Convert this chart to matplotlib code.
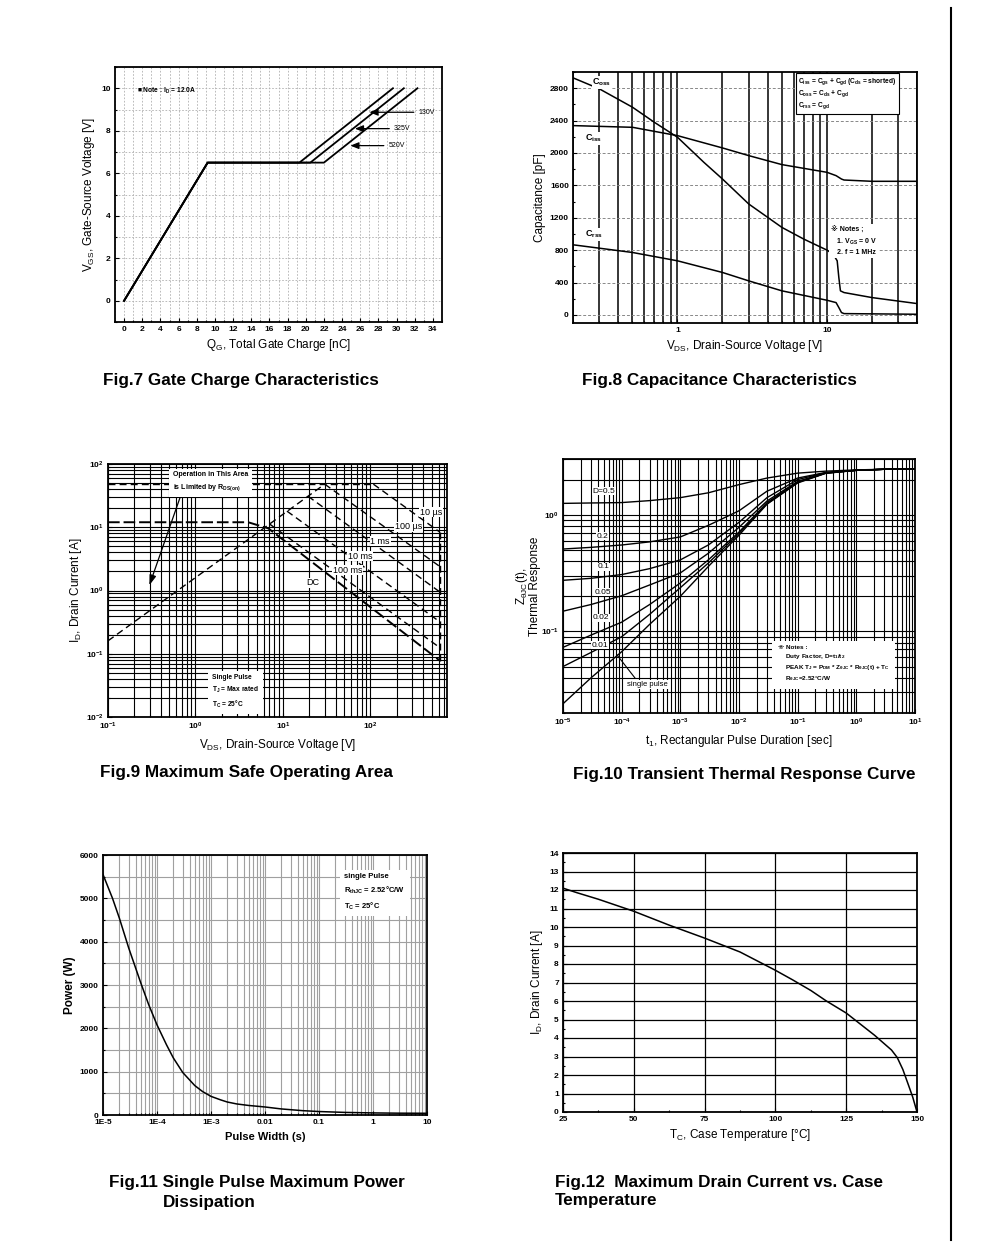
import matplotlib
matplotlib.use('Agg')
import matplotlib.pyplot as plt
from matplotlib.ticker import MultipleLocator, NullFormatter
from matplotlib.lines import Line2D

plt.rcParams['font.family'] = ['Liberation Sans', 'DejaVu Sans', 'Noto Sans CJK JP']
plt.rcParams['mathtext.fontset'] = 'custom'
plt.rcParams['mathtext.rm'] = 'Liberation Sans'
plt.rcParams['mathtext.default'] = 'regular'

# ---- Fig.7 gate charge
vgs_pts = [0, 6.5, 6.5, 10]
qg_130v = [0, 9.2, 19.3, 29.6]
qg_325v = [0, 9.2, 20.5, 30.8]
qg_520v = [0, 9.2, 22.0, 32.3]

# ---- Fig.8 capacitance
vds_ciss = [0.2, 0.5, 1, 2, 3, 5, 10, 11.5, 12.5, 13, 20, 40]
ciss = [2338, 2317, 2214, 2062, 1967, 1856, 1761, 1720, 1678, 1666, 1650, 1650]
vds_coss = [0.2, 0.3, 0.5, 0.7, 1, 1.5, 2, 3, 5, 7, 10, 11, 11.7, 12, 12.3, 13, 20, 40]
coss = [2928, 2792, 2565, 2379, 2194, 1885, 1678, 1369, 1080, 936, 800, 750, 668, 462, 297, 276, 214, 140]
vds_crss = [0.2, 0.5, 1, 2, 3, 5, 10, 11.5, 12, 12.5, 13, 40]
crss = [866, 771, 668, 524, 420, 297, 181, 152, 91, 29, 16, 8]

# ---- Fig.9 safe operating area (V, A)
soa_idm = ([0.1, 108], [48, 48])
soa_rds = ([0.1, 30], [0.16, 48])
soa_10us = ([108, 620], [48, 8.4])
soa_100us = ([30, 620], [48, 2.4])
soa_1ms = ([19.3, 620], [31, 0.95])
soa_10ms = ([11.1, 620], [18, 0.32])
soa_100ms = ([7.0, 620], [11.3, 0.125])
soa_dc = ([0.1, 4.0, 6.8, 620], [12, 12, 9.6, 0.078])
soa_bv = ([620, 620], [8.4, 0.078])

# ---- Fig.10 transient thermal response
t_pulse = [1e-5, 3e-5, 1e-4, 3e-4, 1e-3, 3e-3, 1e-2, 3e-2, 1e-1, 3e-1, 1, 3, 10]
zth = {
    'D=0.5': [1.25, 1.26, 1.27, 1.32, 1.40, 1.54, 1.81, 2.06, 2.27, 2.36, 2.42, 2.45, 2.47],
    '0.2': [0.508, 0.525, 0.55, 0.585, 0.645, 0.81, 1.08, 1.59, 2.06, 2.30, 2.40, 2.45, 2.47],
    '0.1': [0.274, 0.285, 0.307, 0.345, 0.41, 0.55, 0.86, 1.40, 2.00, 2.29, 2.40, 2.45, 2.47],
    '0.05': [0.149, 0.17, 0.202, 0.25, 0.317, 0.467, 0.78, 1.31, 1.93, 2.28, 2.40, 2.45, 2.47],
    '0.02': [0.073, 0.093, 0.12, 0.17, 0.26, 0.41, 0.71, 1.27, 1.90, 2.27, 2.40, 2.45, 2.47],
    '0.01': [0.050, 0.066, 0.090, 0.14, 0.237, 0.385, 0.69, 1.24, 1.89, 2.27, 2.40, 2.45, 2.47],
    'single pulse': [0.024, 0.040, 0.067, 0.115, 0.20, 0.36, 0.667, 1.23, 1.87, 2.26, 2.40, 2.45, 2.47],
}
zth_labels = {'D=0.5': (3.2e-5, 1.59), '0.2': (3.8e-5, 0.653), '0.1': (3.9e-5, 0.358),
              '0.05': (3.4e-5, 0.217), '0.02': (3.2e-5, 0.131), '0.01': (3.1e-5, 0.076)}

# ---- Fig.11 single pulse power
pw = [1e-5, 1.5e-5, 2e-5, 3e-5, 4e-5, 5e-5, 7e-5, 1e-4, 1.5e-4, 2e-4, 3e-4, 5e-4, 7e-4,
      1e-3, 1.5e-3, 2e-3, 3e-3, 5e-3, 1e-2, 2e-2, 5e-2, 0.1, 0.3, 1, 3, 10]
power = [5550, 5000, 4550, 3850, 3400, 3050, 2550, 2080, 1620, 1320, 980, 680, 540,
         430, 350, 300, 255, 220, 185, 140, 100, 80, 60, 48, 42, 40]
pw_ticks = [1e-5, 1e-4, 1e-3, 1e-2, 0.1, 1, 10]
pw_labels = ['1E-5', '1E-4', '1E-3', '0.01', '0.1', '1', '10']

# ---- Fig.12 drain current vs case temperature
tc = [25, 30, 37.5, 50, 62.5, 75, 87.5, 100, 106, 112.5, 118, 125, 130, 135, 138,
      141, 143, 145, 147, 148.5, 150]
id_tc = [12.1, 11.85, 11.5, 10.85, 10.1, 9.4, 8.65, 7.66, 7.15, 6.57, 6.0, 5.35, 4.75,
         4.15, 3.75, 3.35, 2.95, 2.3, 1.45, 0.8, 0]


def fig_px(l, t, r, b):
    return [l / 1000, 1 - b / 1250, (r - l) / 1000, (b - t) / 1250]


def style(ax):
    ax.tick_params(which='both', direction='in', labelsize=6, pad=3, width=0.8)
    ax.tick_params(which='major', length=3)
    ax.tick_params(which='minor', length=1.5)
    for lab in ax.get_xticklabels() + ax.get_yticklabels():
        lab.set_fontweight('bold')
    for s in ax.spines.values():
        s.set_linewidth(1.3)


fig = plt.figure(figsize=(10, 12.5), dpi=100)

# Fig.7
ax = fig.add_axes(fig_px(115, 67, 442, 322))
for q in (qg_130v, qg_325v, qg_520v):
    ax.plot(q, vgs_pts, color='black', lw=1.3)
ax.set_xlim(-1, 35)
ax.set_ylim(-1, 11)
ax.set_xticks(range(0, 35, 2))
ax.set_yticks(range(0, 11, 2))
ax.xaxis.set_minor_locator(MultipleLocator(1))
ax.yaxis.set_minor_locator(MultipleLocator(1))
ax.grid(True, which='both', color='#b0b0b0', ls=(0, (2, 2)), lw=0.6)
ax.set_axisbelow(True)
ax.set_xlabel('Q$_G$, Total Gate Charge [nC]', fontsize=8.5, labelpad=3)
ax.set_ylabel('V$_{GS}$, Gate-Source Voltage [V]', fontsize=8.5, labelpad=3)
ax.text(1.4, 9.86, '■ Note : I$_D$ = 12.0A', fontsize=4.8, fontweight='bold', va='center')
for lab, tip, y in (('130V', 26.7, 8.87), ('325V', 25.1, 8.1), ('520V', 24.6, 7.3)):
    tx = {'130V': 32.2, '325V': 29.5, '520V': 28.9}[lab]
    ax.annotate('', xy=(tip, y), xytext=(tx, y),
                arrowprops=dict(arrowstyle='-|>,head_length=0.5,head_width=0.2', lw=0.9, color='black'))
    ax.text(tx + 0.2, y, lab, fontsize=5, va='center')
style(ax)

# Fig.8
ax = fig.add_axes(fig_px(573, 72, 917, 323))
ax.plot(vds_ciss, ciss, color='black', lw=1.1)
ax.plot(vds_coss, coss, color='black', lw=1.1)
ax.plot(vds_crss, crss, color='black', lw=1.1)
ax.set_xscale('log')
ax.set_xlim(0.2, 40)
ax.set_ylim(-100, 3000)
ax.set_xticks([1, 10], ['1', '10'])
ax.xaxis.set_minor_formatter(NullFormatter())
ax.set_yticks(range(0, 2801, 400))
ax.yaxis.set_minor_locator(MultipleLocator(200))
ax.xaxis.grid(True, which='both', color='black', lw=1.1)
ax.yaxis.grid(True, which='major', color='#888888', ls=(0, (3, 2)), lw=0.7)
ax.set_xlabel('V$_{DS}$, Drain-Source Voltage [V]', fontsize=8.5, labelpad=3)
ax.set_ylabel('Capacitance [pF]', fontsize=8.5, labelpad=3)
ax.text(0.27, 2870, 'C$_{oss}$', fontsize=6.5, fontweight='bold', va='center',
        bbox=dict(fc='white', ec='none', pad=0.5))
ax.text(0.24, 2180, 'C$_{iss}$', fontsize=6.5, fontweight='bold', va='center',
        bbox=dict(fc='white', ec='none', pad=0.5))
ax.text(0.24, 990, 'C$_{rss}$', fontsize=6.5, fontweight='bold', va='center',
        bbox=dict(fc='white', ec='none', pad=0.5))
ax.text(0.655, 0.985, 'C$_{iss}$ = C$_{gs}$ + C$_{gd}$ (C$_{ds}$ = shorted)\n'
        'C$_{oss}$ = C$_{ds}$ + C$_{gd}$\nC$_{rss}$ = C$_{gd}$',
        transform=ax.transAxes, fontsize=4.8, fontweight='bold', va='top', linespacing=1.2,
        bbox=dict(fc='white', ec='black', lw=0.8, pad=2))
ax.text(0.75, 0.385, '※ Notes ;\n   1. V$_{GS}$ = 0 V\n   2. f = 1 MHz',
        transform=ax.transAxes, fontsize=5, fontweight='bold', va='top', linespacing=1.45,
        bbox=dict(fc='white', ec='none', pad=1.5))
style(ax)

# Fig.9
ax = fig.add_axes(fig_px(108, 464, 447, 717))
dash = (0, (5, 3))
for xs, ys in (soa_idm, soa_rds, soa_10us, soa_100us, soa_1ms, soa_10ms, soa_100ms, soa_bv):
    ax.plot(xs, ys, color='black', lw=1.0, ls=dash)
ax.plot(*soa_dc, color='black', lw=1.4, ls=(0, (6, 2)))
ax.set_xscale('log')
ax.set_yscale('log')
ax.set_xlim(0.1, 750)
ax.set_ylim(0.01, 100)
ax.grid(True, which='both', color='black', lw=0.8)
ax.set_axisbelow(True)
ax.set_xlabel('V$_{DS}$, Drain-Source Voltage [V]', fontsize=8.5, labelpad=3)
ax.set_ylabel('I$_D$, Drain Current [A]', fontsize=8.5, labelpad=1)
wbox = dict(fc='white', ec='none', pad=0.6)
for lab, x, y in (('10 µs', 367, 17.4), ('100 µs', 190, 10.1), ('1 ms', 100, 6.06),
                  ('10 ms', 55, 3.5), ('100 ms', 37, 2.1), ('DC', 18.4, 1.32)):
    ax.text(x, y, lab, fontsize=6.5, va='center', bbox=wbox)
ax.text(0.55, 52, 'Operation in This Area\nis Limited by R$_{DS(on)}$', fontsize=5,
        fontweight='bold', va='center', linespacing=1.5, bbox=dict(fc='white', ec='none', pad=3))
ax.annotate('', xy=(0.29, 1.1), xytext=(0.68, 32),
            arrowprops=dict(arrowstyle='-|>,head_length=0.6,head_width=0.2', lw=0.9, color='black'))
ax.text(1.56, 0.025, 'Single Pulse\nT$_J$ = Max rated\nT$_C$ = 25°C', fontsize=4.8,
        fontweight='bold', va='center', linespacing=1.5, bbox=dict(fc='white', ec='none', pad=3))
style(ax)

# Fig.10
ax = fig.add_axes(fig_px(563, 459, 915, 713))
for name, vals in zth.items():
    ax.plot(t_pulse, vals, color='black', lw=1.0)
ax.set_xscale('log')
ax.set_yscale('log')
ax.set_xlim(1e-5, 10)
ax.set_ylim(0.02, 3)
ax.grid(True, which='both', color='black', lw=0.8)
ax.set_axisbelow(True)
for name, (x, y) in zth_labels.items():
    ax.text(x, y, name, fontsize=6, va='center', bbox=dict(fc='white', ec='none', pad=0.5))
ax.text(1.23e-4, 0.035, 'single pulse', fontsize=5.5, va='center',
        bbox=dict(fc='white', ec='none', pad=0.8))
ax.plot([8.3e-5, 1.68e-4], [0.063, 0.040], color='black', lw=0.8)
ax.text(0.61, 0.268, '※ Notes :\n    Duty Factor, D=t$_1$/t$_2$\n'
        '    PEAK T$_J$ = P$_{DM}$ * Z$_{\\theta JC}$ * R$_{\\theta JC}$(t) + T$_C$\n'
        '    R$_{\\theta JC}$=2.52°C/W',
        transform=ax.transAxes, fontsize=4.6, fontweight='bold', va='top', linespacing=1.35,
        bbox=dict(fc='white', ec='none', pad=4))
ax.set_xlabel('t$_1$, Rectangular Pulse Duration [sec]', fontsize=8.5, labelpad=3)
ax.set_ylabel('Z$_{\\theta JC}$(t),\nThermal Response', fontsize=8.5, labelpad=0, linespacing=0.9)
style(ax)

# Fig.11
ax = fig.add_axes(fig_px(103, 855, 427, 1115))
ax.plot(pw, power, color='black', lw=1.1)
ax.set_xscale('log')
ax.set_xlim(1e-5, 10)
ax.set_ylim(0, 6000)
ax.set_xticks(pw_ticks, pw_labels)
ax.xaxis.set_minor_formatter(NullFormatter())
ax.set_yticks(range(0, 6001, 1000))
ax.yaxis.set_minor_locator(MultipleLocator(500))
ax.grid(True, which='both', color='#a0a0a0', lw=0.8)
ax.set_axisbelow(True)
ax.set_xlabel('Pulse Width (s)', fontsize=8, fontweight='bold', labelpad=4)
ax.set_ylabel('Power (W)', fontsize=8.5, fontweight='bold', labelpad=3)
ax.text(0.745, 0.93, 'single Pulse\nR$_{thJC}$ = 2.52°C/W\nT$_C$ = 25°C', transform=ax.transAxes,
        fontsize=5.5, fontweight='bold', va='top', linespacing=1.6,
        bbox=dict(fc='white', ec='none', pad=3))
style(ax)

# Fig.12
ax = fig.add_axes(fig_px(563, 853, 917, 1112))
ax.plot(tc, id_tc, color='black', lw=1.1)
ax.set_xlim(25, 150)
ax.set_ylim(0, 14)
ax.set_xticks(range(25, 151, 25))
ax.set_yticks(range(0, 15))
ax.xaxis.set_minor_locator(MultipleLocator(12.5))
ax.yaxis.set_minor_locator(MultipleLocator(0.5))
ax.grid(True, which='major', color='black', lw=0.9)
ax.set_axisbelow(True)
ax.set_xlabel('T$_C$, Case Temperature [°C]', fontsize=8.5, labelpad=3)
ax.set_ylabel('I$_D$, Drain Current [A]', fontsize=8.5, labelpad=3)
style(ax)

# titles
titles = [
    (103, 380, 'Fig.7 Gate Charge Characteristics'),
    (582, 381, 'Fig.8 Capacitance Characteristics'),
    (100, 773, 'Fig.9 Maximum Safe Operating Area'),
    (573, 775, 'Fig.10 Transient Thermal Response Curve'),
    (109, 1183, 'Fig.11 Single Pulse Maximum Power'),
    (163, 1203, 'Dissipation'),
    (555, 1182, 'Fig.12  Maximum Drain Current vs. Case'),
    (555, 1201, 'Temperature'),
]
for x, y, s in titles:
    fig.text(x / 1000, 1 - y / 1250, s, fontsize=12.3, fontweight='bold', va='center', ha='left')

fig.add_artist(Line2D([0.951, 0.951], [1 - 8 / 1250, 1 - 1240 / 1250], color='black', lw=1.5))

fig.savefig('out.png', dpi=100)
